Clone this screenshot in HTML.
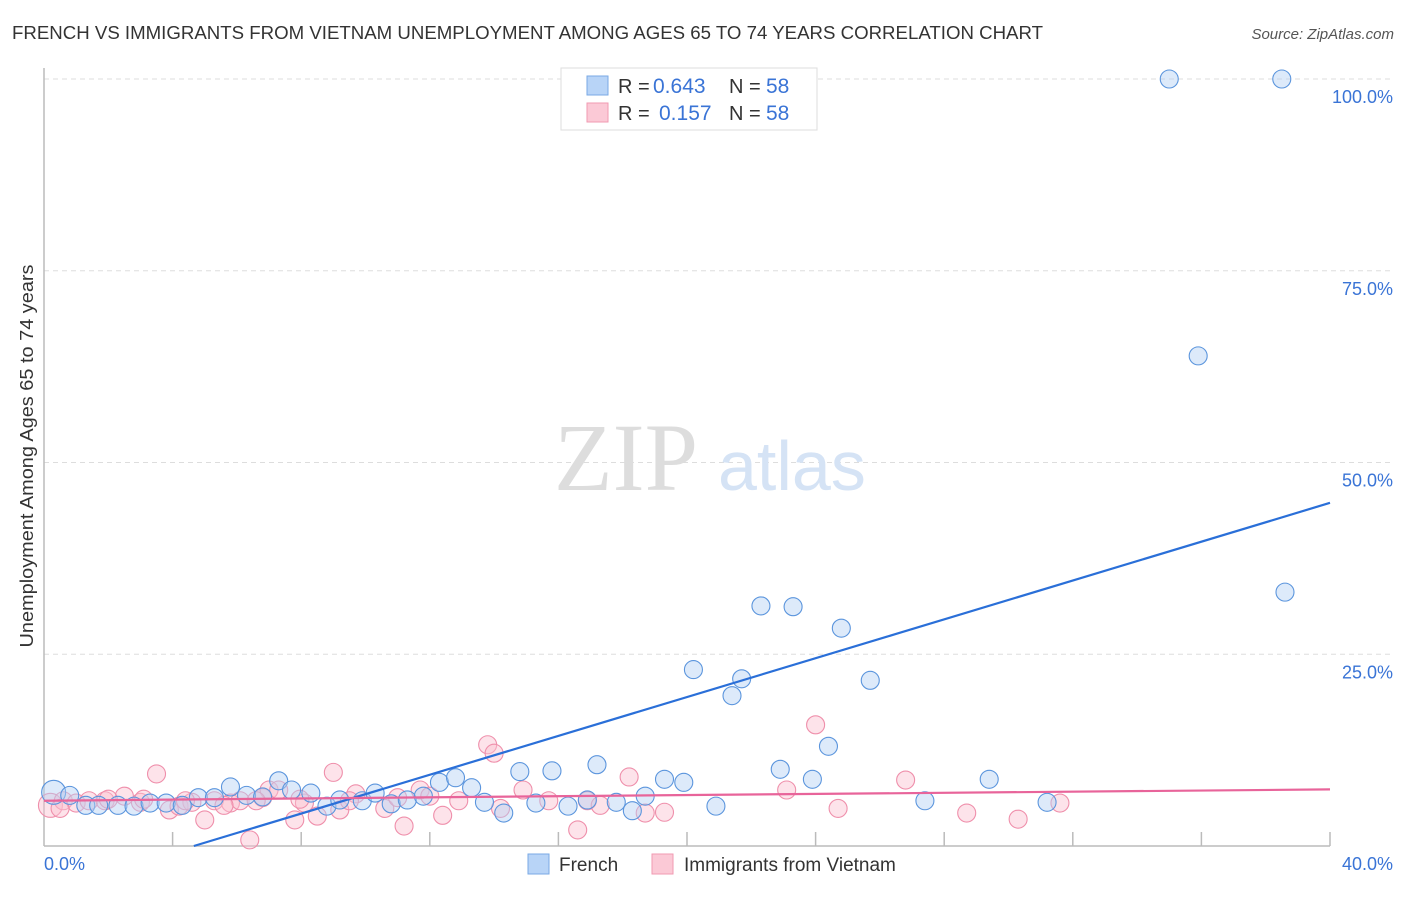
<!DOCTYPE html>
<html><head><meta charset="utf-8"><style>
body{margin:0;background:#fff;font-family:"Liberation Sans",sans-serif}
</style></head><body>
<svg id="c" width="1406" height="892" xmlns="http://www.w3.org/2000/svg">
<text x="12" y="39" font-size="18" fill="#333" textLength="1031" lengthAdjust="spacingAndGlyphs">FRENCH VS IMMIGRANTS FROM VIETNAM UNEMPLOYMENT AMONG AGES 65 TO 74 YEARS CORRELATION CHART</text>
<text x="1394" y="39" font-size="15" fill="#555" font-style="italic" text-anchor="end">Source: ZipAtlas.com</text>
<text x="33" y="456" font-size="18" fill="#333" text-anchor="middle" textLength="383" lengthAdjust="spacingAndGlyphs" transform="rotate(-90 33 456)">Unemployment Among Ages 65 to 74 years</text>
<g id="grid"></g>
<line x1="44" y1="68" x2="44" y2="846" stroke="#bbb" stroke-width="1.5"/>
<line x1="44" y1="846" x2="1330" y2="846" stroke="#bbb" stroke-width="1.5"/>
<text x="554" y="490" font-size="96" fill="#ddd" font-family="Liberation Serif,serif">ZIP</text>
<text x="718" y="490" font-size="70" fill="#d5e3f5">atlas</text>
<g id="pts"></g>
<g id="lines"></g>
<g>
<rect x="561" y="68" width="256" height="62" fill="#fff" stroke="#ddd"/>
<rect x="587" y="76" width="21" height="19" fill="#b8d4f7" stroke="#7aa9e4"/>
<rect x="587" y="103" width="21" height="19" fill="#fbc9d6" stroke="#f09ab2"/>
<text x="618" y="93" font-size="20" fill="#333">R =</text>
<text x="653" y="93" font-size="21" fill="#3a74d6">0.643</text>
<text x="729" y="93" font-size="20" fill="#333">N =</text>
<text x="766" y="93" font-size="21" fill="#3a74d6">58</text>
<text x="618" y="120" font-size="20" fill="#333">R =</text>
<text x="659" y="120" font-size="21" fill="#3a74d6">0.157</text>
<text x="729" y="120" font-size="20" fill="#333">N =</text>
<text x="766" y="120" font-size="21" fill="#3a74d6">58</text>
</g>
<g>
<rect x="528" y="854" width="21" height="20" fill="#b8d4f7" stroke="#7aa9e4"/>
<text x="559" y="871" font-size="19" fill="#333">French</text>
<rect x="652" y="854" width="21" height="20" fill="#fbc9d6" stroke="#f09ab2"/>
<text x="684" y="871" font-size="19" fill="#333">Immigrants from Vietnam</text>
</g>
<text x="44" y="870" font-size="18" fill="#3a74d6">0.0%</text>
<text x="1393" y="870" font-size="18" fill="#3a74d6" text-anchor="end">40.0%</text>
</svg>
<script>
const yTicks=[25,50,75,100];
const yTickLabels=["25.0%","50.0%","75.0%","100.0%"];
const xTicks=[4,8,12,16,20,24,28,32,36,40];
const frenchX=[0.3,0.8,1.3,1.7,2.3,2.8,3.3,3.8,4.3,4.8,5.3,5.8,6.3,6.8,7.3,7.7,8.3,8.8,9.2,9.9,10.3,10.8,11.3,11.8,12.3,12.8,13.3,13.7,14.3,14.8,15.3,15.8,16.3,16.9,17.2,17.8,18.3,18.7,19.3,19.9,20.2,20.9,21.4,21.7,22.3,22.9,23.3,23.9,24.4,24.8,25.7,27.4,29.4,31.2,35.0,35.9,38.5,38.6];
const frenchY=[7.0,6.6,5.3,5.3,5.3,5.2,5.6,5.6,5.3,6.3,6.3,7.7,6.6,6.4,8.5,7.3,6.9,5.2,6.0,5.9,6.9,5.5,6.0,6.5,8.3,8.9,7.6,5.7,4.3,9.7,5.6,9.8,5.2,6.0,10.6,5.7,4.6,6.5,8.7,8.3,23.0,5.2,19.6,21.8,31.3,10.0,31.2,8.7,13.0,28.4,21.6,5.9,8.7,5.7,100,63.9,100,33.1];
const vietX=[0.2,0.6,1.0,1.4,1.9,2.5,3.0,3.5,3.9,4.2,4.6,5.0,5.3,5.8,6.1,6.4,6.8,7.0,7.3,7.8,8.1,8.5,9.0,9.2,9.7,10.6,11.0,11.2,11.7,12.4,13.8,14.0,14.2,14.9,16.6,16.9,18.2,18.7,19.3,23.1,24.0,24.7,26.8,28.7,30.3,31.6,0.5,2.0,3.1,4.4,5.6,6.6,7.96,9.5,12.0,12.9,15.7,17.3];
const vietY=[5.3,5.9,5.6,5.9,5.9,6.5,5.7,9.4,4.7,5.2,5.7,3.4,5.9,5.6,5.9,0.8,6.3,7.3,7.3,3.4,5.6,3.9,9.6,4.7,6.8,4.9,6.3,2.6,7.3,4.0,13.2,12.1,4.9,7.3,2.1,5.9,9.0,4.3,4.4,7.3,15.8,4.9,8.6,4.3,3.5,5.6,4.9,6.1,6.1,5.9,5.3,5.9,6.1,5.9,6.5,5.9,5.9,5.3];
const trendFrench=[-5.9,1.266];
const trendViet=[5.9,0.037];
const ns="http://www.w3.org/2000/svg";
const X=v=>44+v*32.15, Y=v=>846-v*7.67;
const grid=document.getElementById('grid'),pts=document.getElementById('pts'),lines=document.getElementById('lines'),svg=document.getElementById('c');
function mk(t,a,p){const e=document.createElementNS(ns,t);for(const k in a)e.setAttribute(k,a[k]);p.appendChild(e);return e;}
yTicks.forEach((t,i)=>{
 const l=mk('line',{x1:44,x2:1394,y1:Y(t),y2:Y(t),stroke:'#ddd','stroke-dasharray':'5,4'},grid);
 
 
 const tx=mk('text',{x:1393,y:Y(t)+24,'font-size':18,fill:'#3a74d6','text-anchor':'end'},svg);
 tx.textContent=yTickLabels[i];
 
 
});
xTicks.forEach(t=>{
 const l=mk('line',{x1:X(t),x2:X(t),y1:846,y2:832,stroke:'#bbb','stroke-width':1.5},grid);
 
 
});
function series(xs,ys,fill,stroke,name){
 xs.forEach((x,i)=>{
  const c=mk('circle',{cx:X(x),cy:Y(ys[i]),r:i===0?12:9,fill:fill,'fill-opacity':0.45,stroke:stroke,'stroke-width':1.1},pts);
  
  
 });
}
series(vietX,vietY,'#fbc0d0','#ef8fab','vietnam-point');
series(frenchX,frenchY,'#b3d0f5','#5b95dd','french-point');
const x0=(0-trendFrench[0])/trendFrench[1];
const lf=mk('line',{x1:X(x0),y1:Y(0),x2:X(40),y2:Y(trendFrench[0]+trendFrench[1]*40),stroke:'#2a6fd8','stroke-width':2.2},lines);


const lv=mk('line',{x1:X(0),y1:Y(trendViet[0]),x2:X(40),y2:Y(trendViet[0]+trendViet[1]*40),stroke:'#e8649a','stroke-width':2.2},lines);


</script>
</body></html>
